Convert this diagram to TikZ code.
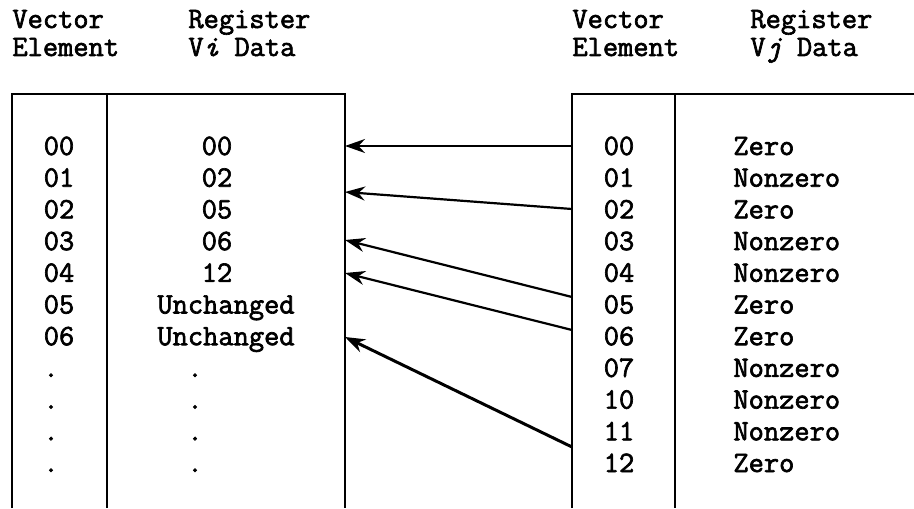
\documentclass[tikz,border=0pt]{standalone}
\usepackage{fontspec}
\setmonofont{Latin Modern Mono}[FakeBold=2.2]
\usetikzlibrary{arrows.meta}
\begin{document}
\begin{tikzpicture}[x=0.5pt,y=-0.5pt,
  lbl/.style={font=\ttfamily\bfseries\fontsize{14.8}{17}\selectfont,inner sep=0pt,anchor=base},
  ptr/.style={-{Stealth[length=10pt,width=7pt]},line width=1.1pt}]
  \useasboundingbox (0,0) rectangle (914,508);
  % left table
  \draw[line width=1pt] (12,508) -- (12,94) -- (345,94) -- (345,508);
  \draw[line width=1pt] (107,94) -- (107,508);
  % right table
  \draw[line width=1pt] (572,508) -- (572,94) -- (914,94);
  \draw[line width=1pt] (675,94) -- (675,508);
  % headings
  \node[lbl,anchor=base west] (hva) at (12,28) {Vector};
  \node[lbl,anchor=base west] (hea) at (12,56) {Element};
  \node[lbl,anchor=base west] (hra) at (188,28) {Register};
  \node[lbl,anchor=base west] (hda) at (188,56) {V\textit{i} Data};
  \node[lbl,anchor=base west] (hvb) at (572,28) {Vector};
  \node[lbl,anchor=base west] (heb) at (572,56) {Element};
  \node[lbl,anchor=base west] (hrb) at (750,28) {Register};
  \node[lbl,anchor=base west] (hdb) at (750,56) {V\textit{j} Data};
  % Vi rows
  \foreach \n [count=\k from 0] in {00,01,02,03,04,05,06}
    \node[lbl] (ie\n) at (59,155+\k*31.7) {\n};
  \foreach \n [count=\k from 0] in {00,02,05,06,12}
    \node[lbl] (id\k) at (217,155+\k*31.7) {\n};
  \node[lbl] (id5) at (226,155+5*31.7) {Unchanged};
  \node[lbl] (id6) at (226,155+6*31.7) {Unchanged};
  \foreach \k in {7,...,10} {
    \node[lbl] (ie\k) at (51,155+\k*31.7) {.};
    \node[lbl] (id\k) at (195,155+\k*31.7) {.};
  }
  % Vj rows
  \foreach \n/\v [count=\k from 0] in {00/Zero,01/Nonzero,02/Zero,03/Nonzero,
      04/Nonzero,05/Zero,06/Zero,07/Nonzero,10/Nonzero,11/Nonzero,12/Zero} {
    \node[lbl] (je\n) at (619,155+\k*31.7) {\n};
    \node[lbl,anchor=base west] (jd\n) at (733,155+\k*31.7) {\v};
  }
  % pointers
  \coordinate (src0) at (572,146); \coordinate (dst0) at (345,146);
  \coordinate (src1) at (572,209); \coordinate (dst1) at (345,192);
  \coordinate (src2) at (572,297); \coordinate (dst2) at (345,240);
  \coordinate (src3) at (572,330); \coordinate (dst3) at (345,273);
  \coordinate (src4) at (572,447); \coordinate (dst4) at (345,337);
  \draw[ptr] (src0) -- (dst0);
  \draw[ptr] (src1) -- (dst1);
  \draw[ptr] (src2) -- (dst2);
  \draw[ptr] (src3) -- (dst3);
  \draw[ptr,line width=1.5pt] (src4) -- (dst4);
\end{tikzpicture}
\end{document}
